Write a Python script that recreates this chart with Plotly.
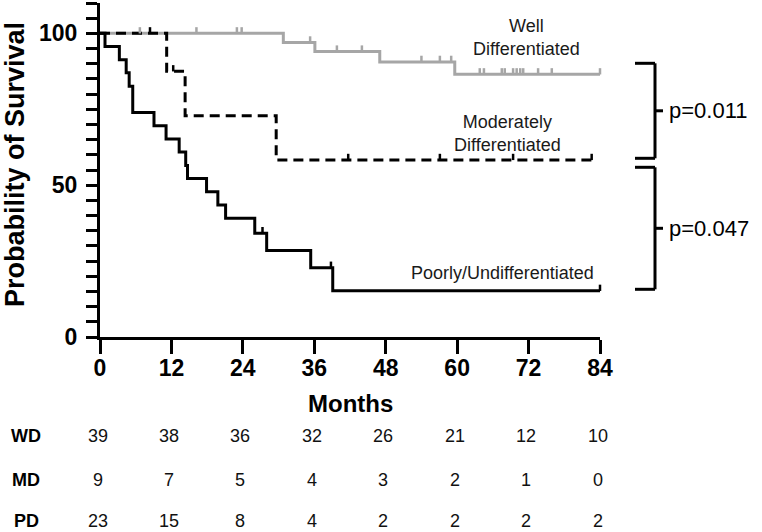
import plotly.graph_objects as go

# ---------------- data ----------------
months_ticks = [0, 12, 24, 36, 48, 60, 72, 84]

# Well differentiated (grey)
wd_t = [0, 30.8, 36.1, 47.0, 59.6, 84]
wd_s = [100, 97.0, 94.0, 90.6, 86.5, 86.5]
wd_cens_t = [6.7, 16.2, 23.0, 23.8, 35.3, 39.8, 44.0, 54.0, 57.1, 59.0,
             63.8, 64.5, 67.5, 68.0, 69.4, 70.0, 70.6, 71.1, 73.6, 75.9, 84.0]
wd_cens_s = [100, 100, 100, 100, 97.0, 94.0, 94.0, 90.6, 90.6, 90.6,
             86.5, 86.5, 86.5, 86.5, 86.5, 86.5, 86.5, 86.5, 86.5, 86.5, 86.5]

# Moderately differentiated (black dashed)
md_t = [0, 11.2, 14.3, 29.6, 82.6]
md_s = [100, 87.5, 72.9, 58.3, 58.3]
md_cens_t = [8.4, 12.3, 41.7, 57.1, 69.4, 82.6]
md_cens_s = [100, 87.5, 58.3, 58.3, 58.3, 58.3]

# Poorly / undifferentiated (black solid)
pd_t = [0, 0.84, 3.25, 4.4, 4.9, 5.5, 9.07, 11.1, 13.3, 14.4, 14.7, 17.9,
        19.8, 21.1, 26.0, 28.0, 35.4, 39.1, 84]
pd_s = [100, 95.7, 91.3, 87.0, 82.6, 73.9, 69.6, 65.2, 60.9, 56.5, 52.2, 47.8,
        43.5, 39.1, 34.2, 28.5, 22.8, 15.2, 15.2]
pd_cens_t = [27.3, 38.8, 84.0]
pd_cens_s = [34.2, 22.8, 15.2]

# numbers at risk
risk_groups = ["WD", "MD", "PD"]
risk_wd = [39, 38, 36, 32, 26, 21, 12, 10]
risk_md = [9, 7, 5, 4, 3, 2, 1, 0]
risk_pd = [23, 15, 8, 4, 2, 2, 2, 2]

p_values = ["p=0.011", "p=0.047"]

# ---------------- figure ----------------
FONT = "Liberation Sans, Arial, sans-serif"
W, H = 762, 532
ML, MR, MT, MB = 100, 162, 3, 195
PW, PH = W - ML - MR, H - MT - MB
GREY = "#a6a6a6"
XMAX = 84


def px2x(px):
    return (px - ML) / PW


def px2y(py):
    return (H - MB - py) / PH


fig = go.Figure()

fig.add_trace(go.Scatter(x=wd_t, y=wd_s, mode="lines", line=dict(color=GREY, width=3, shape="hv"),
                         showlegend=False, hoverinfo="skip"))
fig.add_trace(go.Scatter(x=md_t, y=md_s, mode="lines",
                         line=dict(color="black", width=3, shape="hv", dash="10px,6px"),
                         showlegend=False, hoverinfo="skip"))
fig.add_trace(go.Scatter(x=pd_t, y=pd_s, mode="lines", line=dict(color="black", width=3, shape="hv"),
                         showlegend=False, hoverinfo="skip"))

# censor ticks (drawn just above the curve)
OFF = 1.0
for ct, cs, col in [(wd_cens_t, wd_cens_s, GREY), (md_cens_t, md_cens_s, "black"),
                    (pd_cens_t, pd_cens_s, "black")]:
    fig.add_trace(go.Scatter(x=ct, y=[v + OFF for v in cs], mode="markers",
                             marker=dict(symbol="line-ns", size=4.5, line=dict(color=col, width=2.5)),
                             showlegend=False, hoverinfo="skip", cliponaxis=False))

ytick_vals = list(range(0, 111, 5))
ytick_text = [str(v) if v in (0, 50, 100) else "" for v in ytick_vals]

fig.update_layout(
    width=W, height=H,
    margin=dict(l=ML, r=MR, t=MT, b=MB),
    plot_bgcolor="white", paper_bgcolor="white",
    font=dict(family=FONT, color="black"),
    xaxis=dict(range=[0, XMAX], tickvals=months_ticks, ticks="outside", ticklen=14, tickwidth=3,
               tickcolor="black", showline=True, linewidth=3, linecolor="black", showgrid=False,
               zeroline=False, ticklabelstandoff=-6,
               tickfont=dict(family=FONT, size=23, weight="bold", color="black")),
    yaxis=dict(range=[0, 110], tickvals=ytick_vals, ticktext=ytick_text, ticks="outside", ticklen=11,
               tickwidth=3, tickcolor="black", showline=True, linewidth=3, linecolor="black",
               showgrid=False, zeroline=False, ticklabelstandoff=4,
               tickfont=dict(family=FONT, size=23, weight="bold", color="black")),
)

ann = []
# axis titles
ann.append(dict(text="<b>Probability of Survival</b>", x=px2x(15), y=px2y(165), xref="paper", yref="paper",
                textangle=-90, showarrow=False, font=dict(size=27, family=FONT), xanchor="center",
                yanchor="middle"))
ann.append(dict(text="<b>Months</b>", x=px2x(350), y=px2y(403), xref="paper", yref="paper",
                showarrow=False, font=dict(size=24, family=FONT), xanchor="center", yanchor="middle"))

# curve labels
lab_font = dict(size=18, family=FONT, color="#1a1a1a")
ann.append(dict(text="Well<br>Differentiated", x=71.7, y=98.7, xref="x", yref="y", showarrow=False,
                font=lab_font, xanchor="center", yanchor="middle"))
ann.append(dict(text="Moderately<br>Differentiated", x=68.4, y=66.9, xref="x", yref="y", showarrow=False,
                font=lab_font, xanchor="center", yanchor="middle"))
ann.append(dict(text="Poorly/Undifferentiated", x=67.7, y=21.1, xref="x", yref="y", showarrow=False,
                font=lab_font, xanchor="center", yanchor="middle"))

# brackets with p-values
shapes = []
for (top, bot, txt) in [(63.3, 158.3, p_values[0]), (167.3, 289.3, p_values[1])]:
    mid = (top + bot) / 2
    xl, xv, xt = px2x(635), px2x(655), px2x(663)
    pts = [(xl, top, xv, top), (xv, top, xv, bot), (xl, bot, xv, bot)]
    for (x0, y0, x1, y1) in pts:
        shapes.append(dict(type="line", xref="paper", yref="paper", x0=x0, x1=x1,
                           y0=px2y(y0), y1=px2y(y1), line=dict(color="black", width=3)))
    shapes.append(dict(type="line", xref="paper", yref="paper", x0=xv, x1=xt,
                       y0=px2y(mid), y1=px2y(mid), line=dict(color="black", width=3)))
    ann.append(dict(text=txt, x=px2x(667), y=px2y(mid), xref="paper", yref="paper", showarrow=False,
                    font=dict(size=22, family=FONT, color="black"), xanchor="left", yanchor="middle"))

# numbers at risk table
row_y = [436, 480, 521]
for g, vals, ry in zip(risk_groups, [risk_wd, risk_md, risk_pd], row_y):
    ann.append(dict(text="<b>" + g + "</b>", x=px2x(26), y=px2y(ry), xref="paper", yref="paper",
                    showarrow=False, font=dict(size=18, family=FONT), xanchor="center", yanchor="middle"))
    for m, v in zip(months_ticks, vals):
        ann.append(dict(text=str(v), x=m / XMAX - 0.005, y=px2y(ry), xref="paper", yref="paper",
                        showarrow=False, font=dict(size=18, family=FONT, color="#111111"),
                        xanchor="center", yanchor="middle"))

fig.update_layout(annotations=ann, shapes=shapes)
fig.write_html("out.html", config={"displayModeBar": False},
               post_script="document.body.style.margin='0';")
